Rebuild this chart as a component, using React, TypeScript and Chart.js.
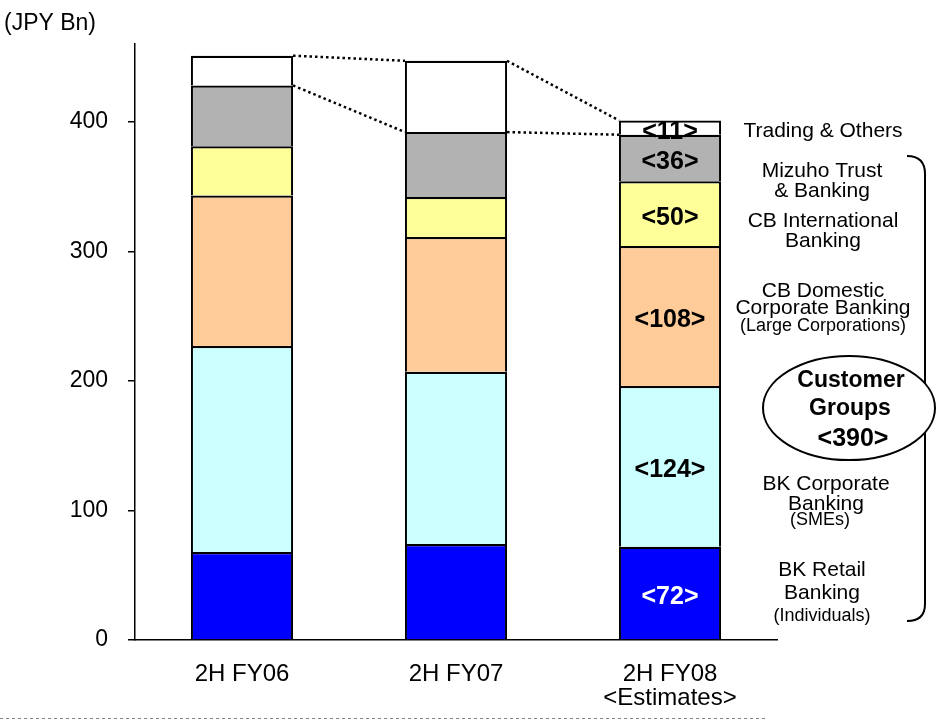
import React, { useEffect, useRef } from 'react';
import { Chart, registerables } from 'chart.js';

Chart.register(...registerables);

const FONT = '"Liberation Sans", Arial, Helvetica, sans-serif';

// ---- data ----
const categories: string[][] = [['2H FY06'], ['2H FY07'], ['2H FY08', '<Estimates>']];
const seriesNames = [
  'BK Retail Banking',
  'BK Corporate Banking',
  'CB Domestic Corporate Banking',
  'CB International Banking',
  'Mizuho Trust & Banking',
  'Trading & Others',
];
const retail = [68, 74, 72];
const corporate = [159, 133, 124];
const domestic = [116, 104, 108];
const international = [38, 31, 50];
const trust = [47, 50, 36];
const trading = [23, 55, 11];
const seriesColors = ['#0000FF', '#CCFFFF', '#FFCC99', '#FFFF99', '#B2B2B2', '#FFFFFF'];
const valueLabelColors = ['#FFFFFF', '#000000', '#000000', '#000000', '#000000', '#000000'];
const yTickValues = [0, 100, 200, 300, 400];
const yMin = 0;
const yMax = 460;
const labeledCategory = 2;
const unitLabel = '(JPY Bn)';
const customerGroupsLines = ['Customer', 'Groups', '<390>'];

// right-side segment descriptions
const sideLabels: { lines: string[]; sizes: number[] }[] = [
  { lines: ['BK Retail', 'Banking', '(Individuals)'], sizes: [21, 21, 18] },
  { lines: ['BK Corporate', 'Banking', '(SMEs)'], sizes: [21, 21, 18] },
  { lines: ['CB Domestic', 'Corporate Banking', '(Large Corporations)'], sizes: [21, 21, 18] },
  { lines: ['CB International', 'Banking'], sizes: [21, 21] },
  { lines: ['Mizuho Trust', '& Banking'], sizes: [21, 21] },
  { lines: ['Trading & Others'], sizes: [21] },
];

const seriesValues = [retail, corporate, domestic, international, trust, trading];

const annotationPlugin = {
  id: 'annotations',
  afterDatasetsDraw(chart: any) {
    const ctx: CanvasRenderingContext2D = chart.ctx;
    const n = seriesValues.length;
    const topMeta = chart.getDatasetMeta(n - 1);
    const trustMeta = chart.getDatasetMeta(n - 2);
    ctx.save();
    ctx.strokeStyle = '#000';
    ctx.lineWidth = 2.5;
    ctx.setLineDash([2.5, 3]);
    for (let j = 0; j < categories.length - 1; j++) {
      for (const meta of [topMeta, trustMeta]) {
        const a = meta.data[j];
        const b = meta.data[j + 1];
        ctx.beginPath();
        ctx.moveTo(a.x + a.width / 2, a.y);
        ctx.lineTo(b.x - b.width / 2, b.y);
        ctx.stroke();
      }
    }
    ctx.restore();

    // value labels on estimates bar
    ctx.save();
    ctx.textAlign = 'center';
    ctx.textBaseline = 'alphabetic';
    ctx.font = `bold 25px ${FONT}`;
    for (let i = 0; i < n; i++) {
      const el = chart.getDatasetMeta(i).data[labeledCategory];
      const mid = (el.y + el.base) / 2;
      ctx.fillStyle = valueLabelColors[i];
      ctx.fillText(`<${seriesValues[i][labeledCategory]}>`, el.x, mid + 11);
    }
    ctx.restore();
  },
  afterDraw(chart: any) {
    const ctx: CanvasRenderingContext2D = chart.ctx;
    ctx.save();
    ctx.fillStyle = '#000';
    // unit label
    ctx.font = `23px ${FONT}`;
    ctx.textAlign = 'left';
    ctx.textBaseline = 'alphabetic';
    ctx.fillText(unitLabel, 4, 30);

    // side labels
    ctx.textAlign = 'center';
    const sidePos = [
      { x: 822, ys: [576, 599, 621] },
      { x: 826, ys: [490, 510, 525] },
      { x: 823, ys: [297, 314, 331] },
      { x: 823, ys: [227, 247] },
      { x: 822, ys: [177, 197] },
      { x: 823, ys: [137] },
    ];
    sideLabels.forEach((s, i) => {
      s.lines.forEach((line, k) => {
        ctx.font = `${s.sizes[k]}px ${FONT}`;
        const x = i === 1 && k === 2 ? 820 : sidePos[i].x;
        ctx.fillText(line, x, sidePos[i].ys[k]);
      });
    });

    // brace
    ctx.strokeStyle = '#000';
    ctx.lineWidth = 2;
    ctx.beginPath();
    ctx.moveTo(907, 156);
    ctx.quadraticCurveTo(925, 156, 925, 174);
    ctx.lineTo(925, 604);
    ctx.quadraticCurveTo(925, 621, 907, 621);
    ctx.stroke();

    // ellipse
    ctx.beginPath();
    ctx.ellipse(849, 408, 86, 52, 0, 0, Math.PI * 2);
    ctx.fillStyle = '#FFFFFF';
    ctx.fill();
    ctx.stroke();
    ctx.fillStyle = '#000';
    ctx.font = `bold 23px ${FONT}`;
    ctx.fillText(customerGroupsLines[0], 851, 387);
    ctx.fillText(customerGroupsLines[1], 850, 415);
    ctx.font = `bold 25px ${FONT}`;
    ctx.fillText(customerGroupsLines[2], 853, 446);

    // dashed bottom rule
    ctx.strokeStyle = '#808080';
    ctx.lineWidth = 1;
    ctx.setLineDash([3, 3]);
    ctx.beginPath();
    ctx.moveTo(0, 718.5);
    ctx.lineTo(767, 718.5);
    ctx.stroke();
    ctx.restore();
  },
};

export default function App() {
  const canvasRef = useRef<HTMLCanvasElement | null>(null);

  useEffect(() => {
    if (!canvasRef.current) return;
    const datasets = seriesValues.map((vals, i) => ({
      label: seriesNames[i],
      data: vals,
      backgroundColor: seriesColors[i],
      borderColor: '#000000',
      borderWidth: { top: 2.25, bottom: 0, left: 2, right: 2 },
      borderSkipped: false as const,
      inflateAmount: 0,
      barPercentage: 0.477,
      categoryPercentage: 1,
    }));
    const chart = new Chart(canvasRef.current, {
      type: 'bar',
      data: { labels: categories, datasets },
      options: {
        animation: false,
        responsive: false,
        maintainAspectRatio: false,
        layout: { padding: { left: 0, right: 160, top: 44, bottom: 0 } },
        plugins: { legend: { display: false }, tooltip: { enabled: false } },
        scales: {
          x: {
            stacked: true,
            grid: { display: false, drawTicks: false },
            border: { display: true, color: '#000', width: 1.5 },
            ticks: {
              color: '#000',
              font: { size: 24, family: FONT, lineHeight: 1 },
              padding: 22,
              maxRotation: 0,
              autoSkip: false,
            },
            afterFit: (s: any) => {
              s.height = 81;
            },
          },
          y: {
            stacked: true,
            min: yMin,
            max: yMax,
            grid: { display: true, drawOnChartArea: false, drawTicks: true, tickLength: 7, color: '#000', lineWidth: 1.5 },
            border: { display: true, color: '#000', width: 1.5 },
            ticks: {
              stepSize: 100,
              color: '#000',
              font: { size: 23, family: FONT },
              padding: 20,
            },
            afterBuildTicks: (s: any) => {
              s.ticks = yTickValues.map((v) => ({ value: v }));
            },
            afterFit: (s: any) => {
              s.width = 135;
            },
          },
        },
      },
      plugins: [annotationPlugin],
    });
    return () => chart.destroy();
  }, []);

  return (
    <div style={{ position: 'fixed', left: 0, top: 0, width: 937, height: 721, background: '#fff' }}>
      <canvas ref={canvasRef} width={937} height={721} style={{ display: 'block', width: 937, height: 721 }} />
    </div>
  );
}
